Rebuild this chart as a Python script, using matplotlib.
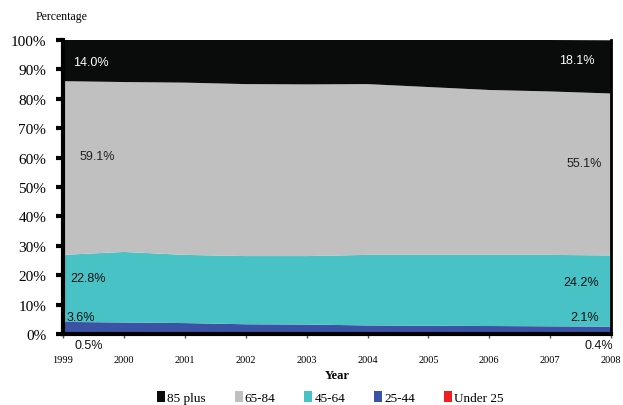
import matplotlib.pyplot as plt
from matplotlib.patches import Patch
import numpy as np

years = [1999, 2000, 2001, 2002, 2003, 2004, 2005, 2006, 2007, 2008]
under25 = [0.5, 0.5, 0.5, 0.5, 0.5, 0.4, 0.4, 0.4, 0.4, 0.4]
age25_44 = [3.6, 3.4, 3.2, 2.8, 2.7, 2.5, 2.4, 2.3, 2.2, 2.1]
age45_64 = [22.8, 24.0, 23.2, 23.2, 23.3, 24.0, 24.1, 24.2, 24.3, 24.2]
age65_84 = [59.1, 57.8, 58.6, 58.5, 58.4, 58.1, 57.1, 56.1, 55.6, 55.1]
plus85 = [14.0, 14.3, 14.5, 15.0, 15.1, 15.0, 16.0, 17.0, 17.5, 18.1]

names = ["Under 25", "25-44", "45-64", "65-84", "85 plus"]
colors = ["#ee2024", "#3a53a4", "#48c2c5", "#c0c0c0", "#0a0b0b"]
series = [under25, age25_44, age45_64, age65_84, plus85]

fig = plt.figure(figsize=(6.23, 4.06), dpi=100)
ax = fig.add_axes([0.101, 0.175, 0.88, 0.724])

ax.stackplot(years, *series, colors=colors, linewidth=0)

ax.set_xlim(1999, 2008)
ax.set_ylim(0, 100)
ax.set_yticks(np.arange(0, 101, 10))
ax.set_yticklabels(["%d%%" % v for v in range(0, 101, 10)], family="Liberation Serif", fontsize=11)
ax.set_xticks(years)
ax.set_xticklabels([str(y) for y in years], family="Liberation Serif", fontsize=7.5)
ax.tick_params(axis="y", length=5, width=3, direction="out", pad=7)
ax.tick_params(axis="x", length=3, width=1, direction="out", pad=12, color="#555555")

ax.spines["top"].set_visible(False)
ax.spines["left"].set_linewidth(3)
ax.spines["bottom"].set_linewidth(3)
ax.spines["right"].set_linewidth(2)

ax.set_xlabel("Year", family="Liberation Serif", fontweight="bold", fontsize=9, labelpad=4)
fig.text(0.099, 0.958, "Percentage", family="Liberation Serif", fontsize=8.5, ha="center", va="center")

# value labels at start and end
lab = dict(family="Liberation Sans", fontsize=9, ha="center", va="center")
ax.text(1999.46, 92.5, "%.1f%%" % plus85[0], color="white", **lab)
ax.text(1999.57, 60.5, "%.1f%%" % age65_84[0], color="#222222", **lab)
ax.text(1999.41, 19.0, "%.1f%%" % age45_64[0], color="#111111", **lab)
ax.text(1999.30, 5.8, "%.1f%%" % age25_44[0], color="#111111", **lab)
ax.text(1999.43, -3.7, "%.1f%%" % under25[0], color="#111111", clip_on=False, **lab)
ax.text(2007.43, 93.2, "%.1f%%" % plus85[-1], color="white", **lab)
ax.text(2007.56, 58.2, "%.1f%%" % age65_84[-1], color="#222222", **lab)
ax.text(2007.51, 17.7, "%.1f%%" % age45_64[-1], color="#111111", **lab)
ax.text(2007.57, 5.8, "%.1f%%" % age25_44[-1], color="#111111", **lab)
ax.text(2007.79, -3.7, "%.1f%%" % under25[-1], color="#111111", clip_on=False, **lab)

handles = [Patch(facecolor=c, edgecolor="none") for c in colors[::-1]]
fig.legend(handles, names[::-1], loc="center", bbox_to_anchor=(0.53, 0.018), ncol=5,
           frameon=False, handlelength=0.6, handleheight=0.9, handletextpad=0.15,
           columnspacing=2.2, prop={"family": "Liberation Serif", "size": 9.5})

fig.savefig("out.png", dpi=100)
